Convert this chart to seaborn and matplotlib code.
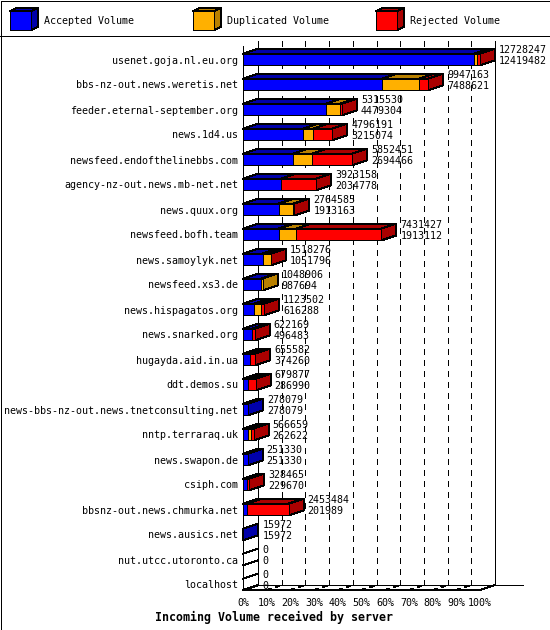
import numpy as np
import pandas as pd
import seaborn as sns
import matplotlib.pyplot as plt
from matplotlib.patches import Polygon, Rectangle
from matplotlib.lines import Line2D
from matplotlib.transforms import Affine2D

hosts = ['usenet.goja.nl.eu.org', 'bbs-nz-out.news.weretis.net', 'feeder.eternal-september.org',
         'news.1d4.us', 'newsfeed.endofthelinebbs.com', 'agency-nz-out.news.mb-net.net',
         'news.quux.org', 'newsfeed.bofh.team', 'news.samoylyk.net', 'newsfeed.xs3.de',
         'news.hispagatos.org', 'news.snarked.org', 'hugayda.aid.in.ua', 'ddt.demos.su',
         'news-bbs-nz-out.news.tnetconsulting.net', 'nntp.terraraq.uk', 'news.swapon.de',
         'csiph.com', 'bbsnz-out.news.chmurka.net', 'news.ausics.net', 'nut.utcc.utoronto.ca',
         'localhost']
total = [12728247, 9947163, 5315530, 4796191, 5852451, 3923158, 2764585, 7431427, 1518276,
         1048906, 1123502, 622169, 655582, 679877, 278079, 566659, 251330, 328465, 2453484,
         15972, 0, 0]
accepted = [12419482, 7488621, 4479304, 3215074, 2694466, 2034778, 1913163, 1913112, 1051796,
            987694, 616288, 496483, 374260, 286990, 278079, 262622, 251330, 229670, 201989,
            15972, 0, 0]
duplicated = [134000, 1981000, 746000, 553000, 1005000, 30000, 790000, 950000, 430000,
              61212, 365000, 0, 0, 0, 0, 182000, 0, 0, 0, 0, 0, 0]
rejected = [174765, 477542, 90226, 1028117, 2152985, 1858380, 61422, 4568315, 36480,
            0, 142214, 125686, 281322, 392887, 0, 122037, 0, 98795, 2251495, 0, 0, 0]
series = ['Accepted Volume', 'Duplicated Volume', 'Rejected Volume']
front_colors = ['#0000ff', '#ffb000', '#ff0000']
dark_colors = ['#0000aa', '#b88000', '#aa0000']
pct_ticks = list(range(0, 101, 10))

sns.set_theme(style='white')
plt.rcParams['font.family'] = ['DejaVu Sans Mono']
plt.rcParams['patch.antialiased'] = False
plt.rcParams['lines.antialiased'] = False
plt.rcParams['lines.scale_dashes'] = False

W, H = 550, 630
LW = 0.72
fig = plt.figure(figsize=(W / 100, H / 100), dpi=100)
# pixel positions of the plot box, top-left origin
X0, X100, Y_TOP, Y_BOT = 243, 480, 46, 590
DEPTH_X, DEPTH_Y = 15, 5
ROW = 25
ax = fig.add_axes([X0 / W, 1 - Y_BOT / H, (X100 + DEPTH_X - X0) / W, (Y_BOT - Y_TOP) / H])

df = pd.DataFrame({'host': hosts, 'total': total, 'accepted': accepted,
                   'duplicated': duplicated, 'rejected': rejected})
top = max(total)
parts = ['accepted', 'duplicated', 'rejected']
left = np.zeros(len(df))
rows = []
for name, col, dark in zip(parts, front_colors, dark_colors):
    share = df[name] / top * 100
    sns.barplot(x=share.values, y=df['host'], order=hosts, orient='y', left=left, color=col,
                saturation=1, width=0.47, edgecolor='black', linewidth=LW, errorbar=None,
                zorder=4, ax=ax)
    rows.append(list(ax.containers[-1]))
    left = left + share.values

ax.set_xlim(0, 100 * (X100 + DEPTH_X - X0) / (X100 - X0))
ax.set_ylim((Y_BOT - 59.5) / ROW, (Y_TOP - 59.5) / ROW)
dx = DEPTH_X / (X100 - X0) * 100
dy = DEPTH_Y / ROW
sns.despine(ax=ax, left=True, bottom=True, top=True, right=True)
ax.patch.set_alpha(0)
ax.set_xlabel('')
ax.set_ylabel('')
ax.set_xticks(pct_ticks)
ax.set_xticklabels([f'{p}%' for p in pct_ticks])
ax.tick_params(axis='both', length=0, labelsize=7.2, colors='black')
ax.tick_params(axis='y', pad=3.6)
ax.tick_params(axis='x', pad=6)

# 3d faces taken from the bars seaborn just drew
for i, host in enumerate(hosts):
    last = None
    for s in range(3):
        r = rows[s][i]
        x0, x1, yt = r.get_x(), r.get_x() + r.get_width(), r.get_y()
        if r.get_width() > 0:
            ax.add_patch(Polygon([(x0, yt), (x1, yt), (x1 + dx, yt - dy), (x0 + dx, yt - dy)],
                                 fc=dark_colors[s], ec='black', lw=LW, zorder=3, clip_on=False))
            last = s
    r = rows[0][i]
    yt, yb = r.get_y(), r.get_y() + r.get_height()
    if last is not None:
        r = rows[last][i]
        x1 = r.get_x() + r.get_width()
        ax.add_patch(Polygon([(x1, yt), (x1, yb), (x1 + dx, yb - dy), (x1 + dx, yt - dy)],
                             fc=dark_colors[last], ec='black', lw=LW, zorder=3, clip_on=False))
    else:
        x1 = 0
        ax.plot([0, dx], [yt, yt - dy], color='black', lw=LW, zorder=3, clip_on=False)
        ax.plot([0, dx], [yb, yb - dy], color='black', lw=LW, zorder=3, clip_on=False)
    ax.annotate(str(total[i]), (x1, i), xytext=(19, 9.5), textcoords='offset pixels',
                va='center', ha='left', fontsize=7.2, color='black', zorder=6, annotation_clip=False)
    ax.annotate(str(accepted[i]), (x1, i), xytext=(19, -1.5), textcoords='offset pixels',
                va='center', ha='left', fontsize=7.2, color='black', zorder=6, annotation_clip=False)

# walls and floor
y0, y1 = ax.get_ylim()
dash = (0, (4.3, 3.6))
for p in pct_ticks[1:-1]:
    ax.plot([p + dx, p + dx], [y1 - dy, y0 - dy], color='black', lw=LW, ls=dash, zorder=1, clip_on=False)
    ax.plot([p, p + dx], [y0, y0 - dy], color='black', lw=LW, ls=(0, (3, 3)), zorder=1, clip_on=False)
ax.plot([0, 0], [y0, y1], color='black', lw=LW, zorder=2, clip_on=False)
ax.plot([dx, dx], [y0 - dy, y1 - dy], color='black', lw=LW, zorder=2, clip_on=False)
ax.plot([100 + dx, 100 + dx], [y0 - dy, y1 - dy], color='black', lw=LW, zorder=2, clip_on=False)
ax.plot([0, 100, 100 + dx], [y0, y0, y0 - dy], color='black', lw=LW, zorder=2, clip_on=False)
ax.plot([0, dx], [y0, y0 - dy], color='black', lw=LW, zorder=2, clip_on=False)
ax.plot([dx, 100 + dx + 11.8], [y0 - dy, y0 - dy], color='black', lw=LW, zorder=2, clip_on=False)

# frame, header rule and legend are placed in image pixels
px = Affine2D().scale(1, -1).translate(0, H)
fig.add_artist(Rectangle((0.5, 0.5), W - 1, H - 1, fc='none', ec='black', lw=LW, transform=px))
fig.add_artist(Line2D([0, W], [36, 36], color='black', lw=LW, transform=px))
for name, col, dark, lx in zip(series, front_colors, dark_colors, [10, 193, 376]):
    fx0, fx1, fy0, fy1 = lx, lx + 21, 11, 30
    d, e = 7, 3
    fig.add_artist(Polygon([(fx0, fy0), (fx1, fy0), (fx1 + d, fy0 - e), (fx0 + d, fy0 - e)],
                           fc=dark, ec='black', lw=LW, transform=px))
    fig.add_artist(Polygon([(fx1, fy0), (fx1, fy1), (fx1 + d, fy1 - e), (fx1 + d, fy0 - e)],
                           fc=dark, ec='black', lw=LW, transform=px))
    fig.add_artist(Rectangle((fx0, fy0), 21, 19, fc=col, ec='black', lw=LW, transform=px))
    fig.text((lx + 34) / W, 1 - 21 / H, name, fontsize=7.2, va='center', ha='left', color='black')

fig.text(274 / W, 1 - 617 / H, 'Incoming Volume received by server', fontsize=8.4, weight='bold',
         va='center', ha='center', color='black')

fig.savefig('out.png', dpi=100)
